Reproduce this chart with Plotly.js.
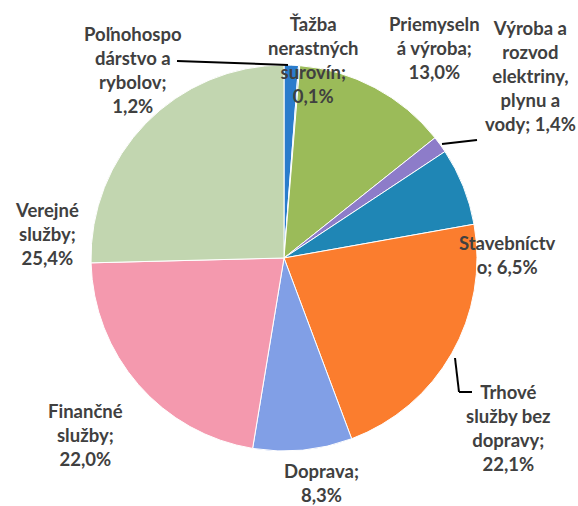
<!DOCTYPE html>
<html>
<head>
<meta charset="utf-8">
<script src="https://cdn.plot.ly/plotly-3.0.1.min.js"></script>
<style>html,body{margin:0;padding:0;background:#fff;}#chart{width:578px;height:506px;}</style>
</head>
<body>
<div id="chart"></div>
<script>
// Data (clockwise from 12 o'clock)
const categories = [
  "Poľnohospodárstvo a rybolov",
  "Ťažba nerastných surovín",
  "Priemyselná výroba",
  "Výroba a rozvod elektriny, plynu a vody",
  "Stavebníctvo",
  "Trhové služby bez dopravy",
  "Doprava",
  "Finančné služby",
  "Verejné služby"
];
const values = [1.2, 0.1, 13.0, 1.4, 6.5, 22.1, 8.3, 22.0, 25.4];
// How each category name is wrapped in its label
const wrappedNames = [
  "Poľnohospo<br>dárstvo a<br>rybolov;",
  "Ťažba<br>nerastných<br>surovín;",
  "Priemyseln<br>á výroba;",
  "Výroba a<br>rozvod<br>elektriny,<br>plynu a<br>vody;",
  "Stavebníctv<br>o;",
  "Trhové<br>služby bez<br>dopravy;",
  "Doprava;",
  "Finančné<br>služby;",
  "Verejné<br>služby;"
];
const colors = ["#2a7ccc", "#2a7ccc", "#9bbb59", "#8d7cc9", "#1f86b5", "#fb7d2e", "#819fe6", "#f499ae", "#c2d6b0"];

// Label positions (page pixels) and whether value goes on a new line
const labelPos = [
  [133, 70, true], [313, 60, true], [434, 48, true], [530, 76, false],
  [507, 255, false], [508, 428, true], [321, 483, true], [85, 435, true], [47, 234, true]
];

const W = 578, H = 506;
const cx = 284, cy = 258, r = 193;

function fmt(v) { return v.toFixed(1).replace(".", ",") + "%"; }

const annotations = categories.map((c, i) => {
  const p = labelPos[i];
  const text = wrappedNames[i] + (p[2] ? "<br>" : " ") + fmt(values[i]);
  return {
    text: text, x: p[0] / W, y: 1 - p[1] / H, xref: "paper", yref: "paper",
    xanchor: "center", yanchor: "middle", showarrow: false, align: "center",
    font: {family: "Lato, 'Open Sans', sans-serif", size: 18.5, color: "#404040", weight: 700}
  };
});

function seg(x0, y0, x1, y1) {
  return {type: "line", xref: "paper", yref: "paper",
    x0: x0 / W, y0: 1 - y0 / H, x1: x1 / W, y1: 1 - y1 / H,
    line: {color: "#000", width: 2}};
}
const shapes = [
  seg(177, 61, 288, 65),
  seg(442, 144, 477, 140),
  seg(455, 358, 459, 392),
  seg(459, 392, 472, 392)
];

const trace = {
  type: "pie",
  labels: categories,
  values: values,
  sort: false,
  direction: "clockwise",
  rotation: 0,
  textinfo: "none",
  hoverinfo: "label+percent",
  marker: {colors: colors, line: {color: "#ffffff", width: 1}},
  domain: {x: [(cx - r) / W, (cx + r) / W], y: [(H - cy - r) / H, (H - cy + r) / H]},
  showlegend: false
};

Plotly.newPlot("chart", [trace], {
  width: W, height: H,
  margin: {l: 0, r: 0, t: 0, b: 0},
  paper_bgcolor: "#ffffff",
  showlegend: false,
  annotations: annotations,
  shapes: shapes
}, {displayModeBar: false, staticPlot: true});
</script>
</body>
</html>
